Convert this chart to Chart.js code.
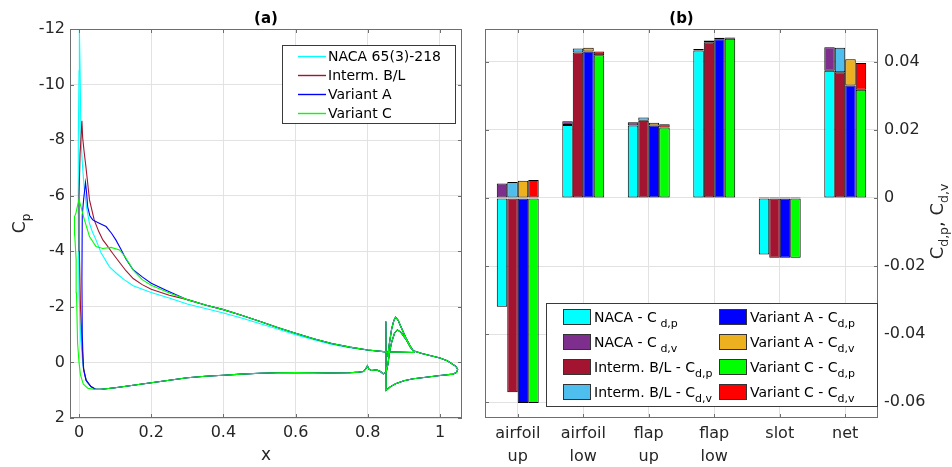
<!DOCTYPE html>
<html>
<head>
<meta charset="utf-8">
<script src="https://cdn.jsdelivr.net/npm/chart.js@4.4.1/dist/chart.umd.min.js"></script>
<style>
  html, body { margin: 0; padding: 0; background: #fff; width: 952px; height: 467px; overflow: hidden; }
  #cpChart { position: absolute; left: 0; top: 0; }
  #dragChart { position: absolute; left: 476px; top: 0; }
</style>
</head>
<body>
<canvas id="cpChart" width="476" height="467"></canvas>
<canvas id="dragChart" width="476" height="467"></canvas>
<script>
// ---- panel (a): pressure coefficient, points as [x, Cp] ----
const xTicks = [0, 0.2, 0.4, 0.6, 0.8, 1];
const cpTicks = [-12, -10, -8, -6, -4, -2, 0, 2];

// parts shared by all four cases (curves lie on top of each other there)
const coveCp = [[0.929,-0.36],[0.918,-0.55],[0.905,-0.85],[0.892,-1.08],[0.882,-1.17],[0.874,-1.05],[0.866,-0.72],[0.86,-0.36],[0.856,0.05],[0.851,0.35]];
const mainLowerAft = [[0.843,0.41],[0.835,0.33],[0.824,0.27],[0.81,0.29],[0.803,0.24],[0.799,0.12],[0.795,0.22],[0.788,0.33],[0.775,0.35],[0.75,0.37],[0.7,0.38],[0.65,0.37],[0.6,0.36],[0.55,0.37],[0.5,0.39],[0.45,0.42],[0.4,0.46],[0.35,0.5],[0.3,0.55],[0.25,0.64],[0.2,0.73],[0.15,0.82],[0.1,0.91],[0.075,0.95],[0.06,0.97]];
const flapCp = [[0.855,-0.2],[0.86,-0.7],[0.866,-1.2],[0.872,-1.5],[0.877,-1.63],[0.884,-1.52],[0.893,-1.25],[0.905,-0.9],[0.917,-0.6],[0.926,-0.42],[0.95,-0.32],[0.975,-0.24],[1.0,-0.16],[1.02,-0.06],[1.032,0.04],[1.044,0.14],[1.049,0.25],[1.046,0.36],[1.036,0.42],[1.0,0.47],[0.95,0.55],[0.926,0.59],[0.9,0.66],[0.877,0.77],[0.862,0.88],[0.851,1.0],[0.85,-1.47]];
const upperAft = [[0.3,-2.26],[0.35,-2.07],[0.4,-1.9],[0.45,-1.7],[0.5,-1.48],[0.55,-1.26],[0.6,-1.05],[0.65,-0.85],[0.7,-0.68],[0.75,-0.55],[0.8,-0.45],[0.85,-0.38],[0.929,-0.36]];
const nacaUpperAft = [[0.3,-2.1],[0.35,-1.94],[0.4,-1.78],[0.45,-1.6],[0.5,-1.4],[0.55,-1.2],[0.6,-1.0],[0.65,-0.82],[0.7,-0.65],[0.75,-0.53],[0.8,-0.44],[0.85,-0.38],[0.929,-0.36]];

// leading-edge region, lower side -> nose -> upper side
const nacaLE = [[0.047,0.97],[0.033,0.88],[0.022,0.7],[0.015,0.4],[0.01,0.0],[0.005,-0.8],[0.0,-2.5],[-0.002,-5],[-0.002,-8],[0.0,-10.5],[0.001,-12],[0.003,-10.5],[0.0055,-8.0],[0.01,-7.0],[0.015,-6.2],[0.022,-5.5],[0.029,-5.0],[0.037,-4.7],[0.047,-4.41],[0.061,-3.95],[0.084,-3.45],[0.104,-3.2],[0.125,-2.98],[0.15,-2.76],[0.2,-2.52],[0.25,-2.32]];
const intermLE = [[0.047,0.97],[0.033,0.87],[0.02,0.65],[0.013,0.25],[0.009,-0.5],[0.004,-2],[0.001,-4],[0.0,-6],[0.003,-7.5],[0.008,-8.7],[0.01,-8.1],[0.014,-7.6],[0.019,-7.05],[0.029,-5.85],[0.042,-5.13],[0.055,-4.7],[0.066,-4.41],[0.077,-4.22],[0.093,-3.93],[0.114,-3.57],[0.13,-3.3],[0.15,-3.02],[0.175,-2.8],[0.2,-2.63],[0.25,-2.42]];
const varALE = [[0.047,0.97],[0.033,0.87],[0.019,0.63],[0.012,0.2],[0.009,-1],[0.008,-3],[0.009,-5.3],[0.013,-5.9],[0.018,-6.47],[0.021,-6.1],[0.024,-5.6],[0.03,-5.28],[0.038,-5.13],[0.056,-5.01],[0.075,-4.89],[0.09,-4.65],[0.102,-4.41],[0.115,-4.1],[0.13,-3.72],[0.149,-3.35],[0.176,-3.07],[0.2,-2.85],[0.241,-2.6]];
const varCLE = [[0.047,0.97],[0.038,0.96],[0.024,0.93],[0.012,0.78],[0.004,0.45],[0.0,0.0],[-0.004,-0.7],[-0.007,-2.5],[-0.008,-3.7],[-0.012,-4.6],[-0.013,-4.95],[-0.012,-5.25],[-0.009,-5.35],[-0.004,-5.65],[0.0,-5.85],[0.0055,-5.6],[0.015,-5.13],[0.029,-4.53],[0.047,-4.17],[0.066,-4.1],[0.089,-4.14],[0.112,-4.05],[0.125,-3.85],[0.139,-3.57],[0.15,-3.32],[0.175,-2.98],[0.2,-2.78],[0.25,-2.5]];

const lineNames = ['NACA 65(3)-218', 'Interm. B/L', 'Variant A', 'Variant C'];
const lineColors = ['#00ffff', '#a2142f', '#0000ff', '#00ff00'];

// ---- panel (b): drag breakdown ----
const categories = [['airfoil','up'], ['airfoil','low'], ['flap','up'], ['flap','low'], ['slot'], ['net']];
const cdTicks = [-0.06, -0.04, -0.02, 0, 0.02, 0.04];
const nacaCdp   = [-0.0320, 0.0215, 0.0213, 0.0434, -0.0166, 0.0374];
const nacaCdv   = [ 0.0043, 0.0011, 0.0010, 0.0004,  0.0003, 0.0069];
const intermCdp = [-0.0571, 0.0428, 0.0227, 0.0458, -0.0176, 0.0370];
const intermCdv = [ 0.0047, 0.0012, 0.0010, 0.0005,  0.0003, 0.0072];
const varACdp   = [-0.0603, 0.0431, 0.0213, 0.0467, -0.0176, 0.0331];
const varACdv   = [ 0.0051, 0.0011, 0.0008, 0.0004,  0.0003, 0.0077];
const varCCdp   = [-0.0603, 0.0420, 0.0207, 0.0468, -0.0176, 0.0318];
const varCCdv   = [ 0.0053, 0.0011, 0.0010, 0.0004,  0.0003, 0.0079];

const FONT = '"DejaVu Sans"';
const TXT = '#262626';
const BOX = '#6e6e6e';
const GRID = '#e2e2e2';
Chart.defaults.font.family = FONT;
Chart.defaults.color = TXT;

function toPoints(parts){
  const out = [];
  parts.forEach((seg, i) => {
    if(i > 0 && seg === null){ out.push({x: 0.85, y: null}); return; }
    if(seg) seg.forEach(p => out.push({x: p[0], y: p[1]}));
  });
  return out;
}

// text pieces like C + subscript, left aligned from x on baseline y
function richWidth(ctx, parts, size, subSize){
  let w = 0;
  parts.forEach(([t, sub]) => { ctx.font = (sub ? subSize : size) + 'px ' + FONT; w += ctx.measureText(t).width; });
  return w;
}
function drawRich(ctx, x, y, parts, size, subSize, drop){
  let cx = x;
  ctx.textBaseline = 'alphabetic';
  ctx.textAlign = 'left';
  parts.forEach(([t, sub]) => {
    ctx.font = (sub ? subSize : size) + 'px ' + FONT;
    ctx.fillText(t, cx, sub ? y + drop : y);
    cx += ctx.measureText(t).width;
  });
}
function seg(ctx, x1, y1, x2, y2){ ctx.beginPath(); ctx.moveTo(x1, y1); ctx.lineTo(x2, y2); ctx.stroke(); }

const cpDecor = {
  id: 'cpDecor',
  afterDraw(chart){
    const ctx = chart.ctx, a = chart.chartArea;
    ctx.save();
    ctx.strokeStyle = BOX; ctx.lineWidth = 1;
    ctx.strokeRect(a.left + 0.5, a.top + 0.5, a.right - a.left - 1, a.bottom - a.top - 1);
    xTicks.forEach(v => {
      const px = Math.round(chart.scales.x.getPixelForValue(v)) + 0.5;
      seg(ctx, px, a.bottom, px, a.bottom - 4); seg(ctx, px, a.top, px, a.top + 4);
    });
    cpTicks.forEach(v => {
      const py = Math.round(chart.scales.y.getPixelForValue(v)) + 0.5;
      seg(ctx, a.left, py, a.left + 4, py); seg(ctx, a.right, py, a.right - 4, py);
    });
    ctx.fillStyle = '#000';
    ctx.font = 'bold 15px ' + FONT; ctx.textAlign = 'center'; ctx.textBaseline = 'middle';
    ctx.fillText('(a)', (a.left + a.right) / 2, 19);
    ctx.fillStyle = TXT;
    ctx.font = '17px ' + FONT;
    ctx.fillText('x', (a.left + a.right) / 2, 456);
    // y label C_p
    const yl = [['C', 0], ['p', 1]];
    ctx.save();
    ctx.translate(25, (a.top + a.bottom) / 2);
    ctx.rotate(-Math.PI / 2);
    drawRich(ctx, -richWidth(ctx, yl, 17, 12) / 2, 0, yl, 17, 12, 5);
    ctx.restore();
    // legend
    ctx.fillStyle = '#fff';
    ctx.fillRect(282, 45, 173, 78);
    ctx.strokeStyle = '#3a3a3a';
    ctx.strokeRect(282.5, 45.5, 173, 78);
    lineNames.forEach((n, i) => {
      const y = 56 + i * 19;
      ctx.strokeStyle = lineColors[i];
      ctx.lineWidth = 1.4;
      seg(ctx, 298, y + 0.5, 326, y + 0.5);
      ctx.fillStyle = '#000';
      ctx.font = '14px ' + FONT; ctx.textAlign = 'left'; ctx.textBaseline = 'middle';
      ctx.fillText(n, 328, y + 1);
    });
    ctx.restore();
  }
};

const cpSeries = [
  [coveCp, mainLowerAft, nacaLE, nacaUpperAft, null, flapCp],
  [coveCp, mainLowerAft, intermLE, upperAft, null, flapCp],
  [coveCp, mainLowerAft, varALE, upperAft, null, flapCp],
  [coveCp, mainLowerAft, varCLE, upperAft, null, flapCp]
];

new Chart(document.getElementById('cpChart'), {
  type: 'scatter',
  data: {
    datasets: cpSeries.map((s, i) => ({
      label: lineNames[i],
      data: toPoints(s),
      showLine: true,
      borderColor: lineColors[i],
      backgroundColor: lineColors[i],
      borderWidth: 1.1,
      pointRadius: 0,
      tension: 0,
      spanGaps: false,
      order: 3 - i
    }))
  },
  options: {
    responsive: false, animation: false, devicePixelRatio: 1,
    layout: { padding: { left: 0, right: 14, top: 29, bottom: 0 } },
    plugins: { legend: { display: false }, title: { display: false }, tooltip: { enabled: false } },
    scales: {
      x: {
        type: 'linear', min: -0.025, max: 1.061,
        afterBuildTicks: ax => { ax.ticks = xTicks.map(v => ({ value: v })); },
        afterFit: ax => { ax.height = 49; },
        ticks: { font: { size: 16 }, color: TXT, padding: 5, callback: v => String(v) },
        grid: { color: GRID, drawTicks: false },
        border: { display: false }
      },
      y: {
        type: 'linear', reverse: true, min: -12, max: 2,
        afterBuildTicks: ax => { ax.ticks = cpTicks.map(v => ({ value: v })); },
        afterFit: ax => { ax.width = 70; },
        ticks: { font: { size: 16 }, color: TXT, padding: 5, callback: v => String(v) },
        grid: { color: GRID, drawTicks: false },
        border: { display: false }
      }
    }
  },
  plugins: [cpDecor]
});

// ---- panel (b) ----
const barNames = [
  [['NACA - C', 0], [' d,p', 1]], [['NACA - C', 0], [' d,v', 1]],
  [['Interm. B/L - C', 0], ['d,p', 1]], [['Interm. B/L - C', 0], ['d,v', 1]],
  [['Variant A - C', 0], ['d,p', 1]], [['Variant A - C', 0], ['d,v', 1]],
  [['Variant C - C', 0], ['d,p', 1]], [['Variant C - C', 0], ['d,v', 1]]
];
const barColors = ['#00ffff', '#7e2f8e', '#a2142f', '#4dbeee', '#0000ff', '#edb120', '#00ff00', '#ff0000'];
const barValues = [nacaCdp, nacaCdv, intermCdp, intermCdv, varACdp, varACdv, varCCdp, varCCdv];
const barStacks = ['naca', 'naca', 'interm', 'interm', 'varA', 'varA', 'varC', 'varC'];

const cdDecor = {
  id: 'cdDecor',
  afterDraw(chart){
    const ctx = chart.ctx, a = chart.chartArea;
    ctx.save();
    ctx.strokeStyle = BOX; ctx.lineWidth = 1;
    ctx.strokeRect(a.left + 0.5, a.top + 0.5, a.right - a.left - 1, a.bottom - a.top - 1);
    categories.forEach((c, i) => {
      const px = Math.round(chart.scales.x.getPixelForValue(i)) + 0.5;
      seg(ctx, px, a.bottom, px, a.bottom - 4); seg(ctx, px, a.top, px, a.top + 4);
    });
    cdTicks.forEach(v => {
      const py = Math.round(chart.scales.y.getPixelForValue(v)) + 0.5;
      seg(ctx, a.left, py, a.left + 4, py); seg(ctx, a.right, py, a.right - 4, py);
    });
    ctx.fillStyle = '#000';
    ctx.font = 'bold 15px ' + FONT; ctx.textAlign = 'center'; ctx.textBaseline = 'middle';
    ctx.fillText('(b)', (a.left + a.right) / 2, 19);
    // right y label
    ctx.fillStyle = TXT;
    const yl = [['C', 0], ['d,p', 1], [', C', 0], ['d,v', 1]];
    ctx.save();
    ctx.translate(467, (a.top + a.bottom) / 2 - 2);
    ctx.rotate(-Math.PI / 2);
    drawRich(ctx, -richWidth(ctx, yl, 18, 12.5) / 2, 0, yl, 18, 12.5, 5);
    ctx.restore();
    // legend
    ctx.fillStyle = '#fff';
    ctx.fillRect(70, 303, 331, 103);
    ctx.strokeStyle = '#3a3a3a';
    ctx.strokeRect(70.5, 303.5, 331, 103);
    barNames.forEach((parts, i) => {
      const col = i < 4 ? 0 : 1, row = i % 4;
      const sx = col ? 243 : 87, cy = 317 + row * 25;
      ctx.fillStyle = barColors[i];
      ctx.fillRect(sx, cy - 8, 28, 16);
      ctx.strokeStyle = '#333';
      ctx.strokeRect(sx + 0.5, cy - 7.5, 27, 15);
      ctx.fillStyle = '#000';
      drawRich(ctx, sx + 31, cy + 5, parts, 14, 11, 5);
    });
    ctx.restore();
  }
};

new Chart(document.getElementById('dragChart'), {
  type: 'bar',
  data: {
    labels: categories,
    datasets: barValues.map((vals, i) => ({
      label: barNames[i].map(p => p[0]).join(''),
      data: vals,
      stack: barStacks[i],
      backgroundColor: barColors[i],
      borderColor: '#000',
      borderWidth: 1,
      borderSkipped: false,
      categoryPercentage: 0.64,
      barPercentage: 1.0
    }))
  },
  options: {
    responsive: false, animation: false, devicePixelRatio: 1,
    layout: { padding: { left: 9, right: 0, top: 29, bottom: 0 } },
    plugins: { legend: { display: false }, title: { display: false }, tooltip: { enabled: false } },
    scales: {
      x: {
        stacked: true,
        afterFit: ax => { ax.height = 49; },
        ticks: { font: { size: 16, lineHeight: 1.45 }, color: TXT, padding: 4, maxRotation: 0, autoSkip: false },
        grid: { color: GRID, drawTicks: false, offset: false },
        border: { display: false }
      },
      y: {
        stacked: true, position: 'right', min: -0.0647, max: 0.0497,
        afterBuildTicks: ax => { ax.ticks = cdTicks.map(v => ({ value: v })); },
        afterFit: ax => { ax.width = 74; },
        ticks: { font: { size: 16 }, color: TXT, padding: 6, callback: v => v === 0 ? '0' : v.toFixed(2) },
        grid: { color: GRID, drawTicks: false },
        border: { display: false }
      }
    }
  },
  plugins: [cdDecor]
});
</script>
</body>
</html>
